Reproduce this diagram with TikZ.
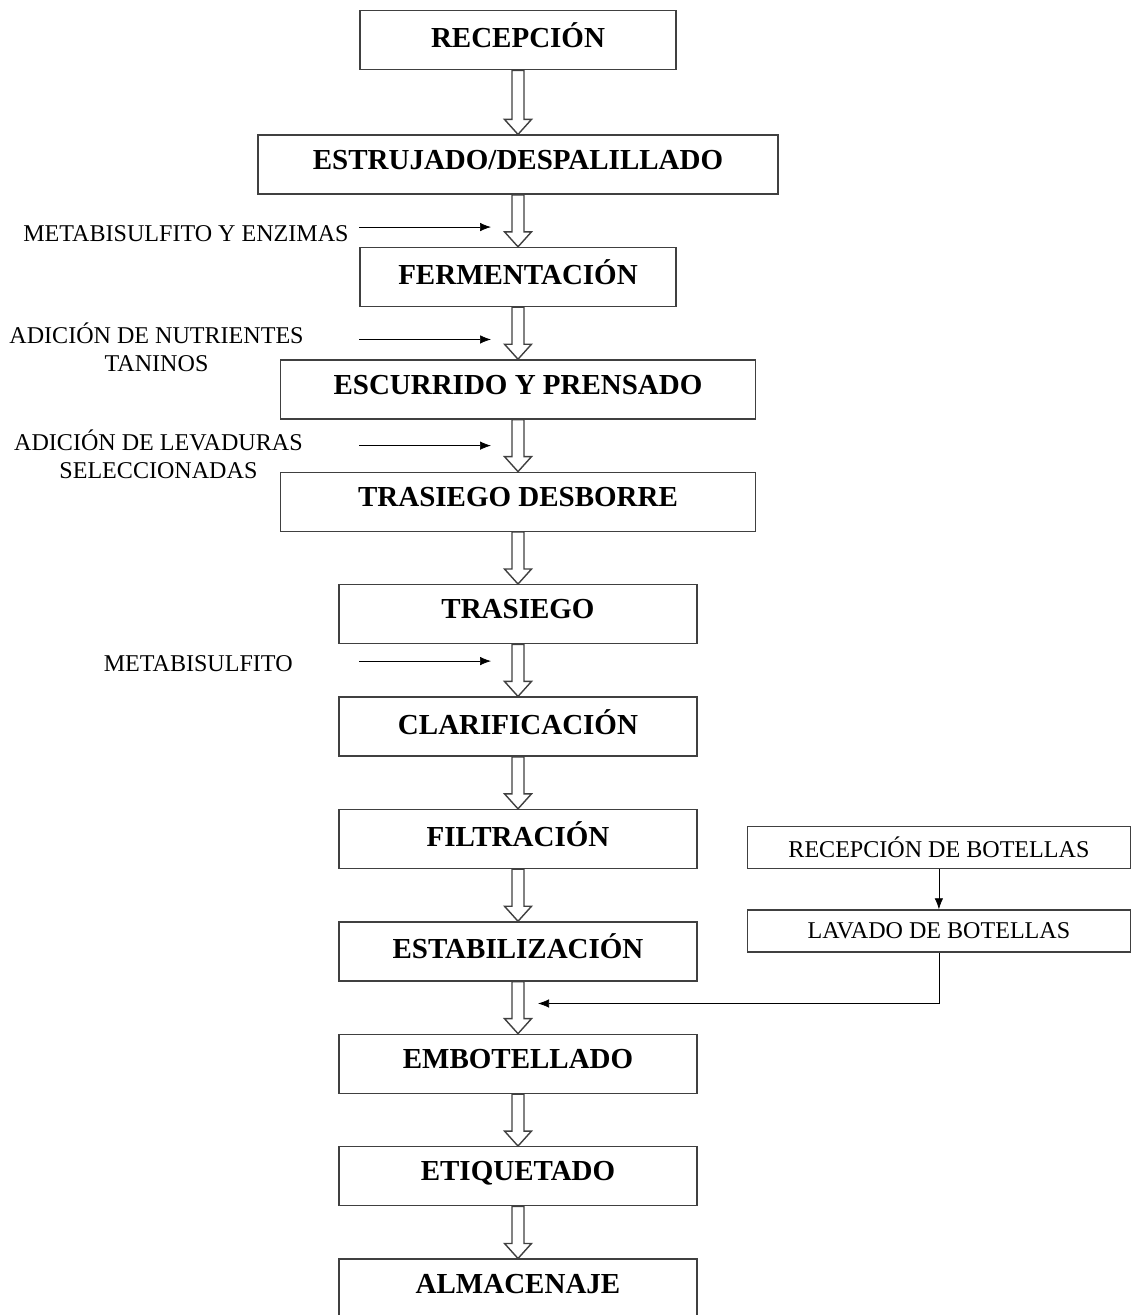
\documentclass[tikz,border=0pt]{standalone}
\usepackage{fontspec}
\setmainfont{Liberation Serif}
\usetikzlibrary{positioning, arrows.meta, calc}

\begin{document}
\begin{tikzpicture}
        [
            etapa/.style = {draw=black!75, line width=0.8pt, minimum height=1.18cm, text depth=0.2cm, font=\fontsize{16.5}{18}\selectfont\bfseries},
            lateral/.style = {font=\fontsize{13.7}{16}\selectfont, align=center, inner sep=0pt},
            botella/.style = {draw=black!75, line width=0.8pt, minimum width=7.66cm, minimum height=0.84cm, font=\fontsize{13.7}{16}\selectfont},
            bloque/.style = {draw=black!75, line width=0.8pt, fill=white},
            >={Latex[length=0.22cm, width=0.17cm]}, node distance=1.04cm
        ]%
        \useasboundingbox (0,0) rectangle (22.66,-26.3);
        \node[etapa, minimum width=6.32cm, anchor=north] (recepcion) at (10.36,-0.2) {RECEPCIÓN};
        \node[etapa, minimum width=10.4cm, below = 1.28cm of recepcion] (estrujado) {ESTRUJADO/DESPALILLADO};
        \node[etapa, minimum width=6.32cm, below = of estrujado] (fermentacion) {FERMENTACIÓN};
        \node[etapa, minimum width=9.5cm, below = of fermentacion] (escurrido) {ESCURRIDO Y PRENSADO};
        \node[etapa, minimum width=9.5cm, below = of escurrido] (desborre) {TRASIEGO DESBORRE};
        \node[etapa, minimum width=7.16cm, below = of desborre] (trasiego) {TRASIEGO};
        \node[etapa, minimum width=7.16cm, below = of trasiego] (clarificacion) {CLARIFICACIÓN};
        \node[etapa, minimum width=7.16cm, below = of clarificacion] (filtracion) {FILTRACIÓN};
        \node[etapa, minimum width=7.16cm, below = of filtracion] (estabilizacion) {ESTABILIZACIÓN};
        \node[etapa, minimum width=7.16cm, below = of estabilizacion] (embotellado) {EMBOTELLADO};
        \node[etapa, minimum width=7.16cm, below = of embotellado] (etiquetado) {ETIQUETADO};
        \node[etapa, minimum width=7.16cm, below = of etiquetado] (almacenaje) {ALMACENAJE};
        \foreach \a/\b in {recepcion/estrujado, estrujado/fermentacion, fermentacion/escurrido, escurrido/desborre, desborre/trasiego, trasiego/clarificacion, clarificacion/filtracion, filtracion/estabilizacion, estabilizacion/embotellado, embotellado/etiquetado, etiquetado/almacenaje}
            \draw[bloque] ([xshift=-0.12cm]\a.south) -- ([xshift=-0.12cm, yshift=0.3cm]\b.north) -- ++(-0.15,0) -- (\b.north) -- ++(0.27,0.3) -- ++(-0.15,0) -- ([xshift=0.12cm]\a.south) -- cycle;
        \coordinate (fin1) at ($(estrujado.south)!0.62!(fermentacion.north) + (-0.54,0)$);
        \coordinate (ini1) at ($(fin1) + (-2.64,0)$);
        \draw[->] (ini1) -- (fin1);
        \node[lateral, anchor=east] (enzimas) at ($(ini1) + (-0.2,-0.14)$) {METABISULFITO Y ENZIMAS};
        \coordinate (fin2) at ($(fermentacion.south)!0.62!(escurrido.north) + (-0.54,0)$);
        \coordinate (ini2) at ($(fin2) + (-2.64,0)$);
        \draw[->] (ini2) -- (fin2);
        \node[lateral, anchor=east] (nutrientes) at ($(ini2) + (-1.1,-0.16)$) {ADICIÓN DE NUTRIENTES\\TANINOS};
        \coordinate (fin3) at ($(escurrido.south)!0.5!(desborre.north) + (-0.54,0)$);
        \coordinate (ini3) at ($(fin3) + (-2.64,0)$);
        \draw[->] (ini3) -- (fin3);
        \node[lateral, anchor=east] (levaduras) at ($(ini3) + (-1.12,-0.17)$) {ADICIÓN DE LEVADURAS\\SELECCIONADAS};
        \coordinate (fin4) at ($(trasiego.south)!0.32!(clarificacion.north) + (-0.54,0)$);
        \coordinate (ini4) at ($(fin4) + (-2.64,0)$);
        \draw[->] (ini4) -- (fin4);
        \node[lateral, anchor=east] (metabisulfito) at ($(ini4) + (-1.32,-0.06)$) {METABISULFITO};
        \node[botella, anchor=north west] (recbotellas) at ($(filtracion.north east) + (0.98,-0.34)$) {RECEPCIÓN DE BOTELLAS};
        \node[botella, below = 0.8cm of recbotellas] (lavado) {LAVADO DE BOTELLAS};
        \draw[->] (recbotellas) -- (lavado);
        \coordinate (union) at ($(estabilizacion.south)!0.42!(embotellado.north) + (0.4,0)$);
        \draw[->] (lavado.south) |- (union);
        \end{tikzpicture}
\end{document}
